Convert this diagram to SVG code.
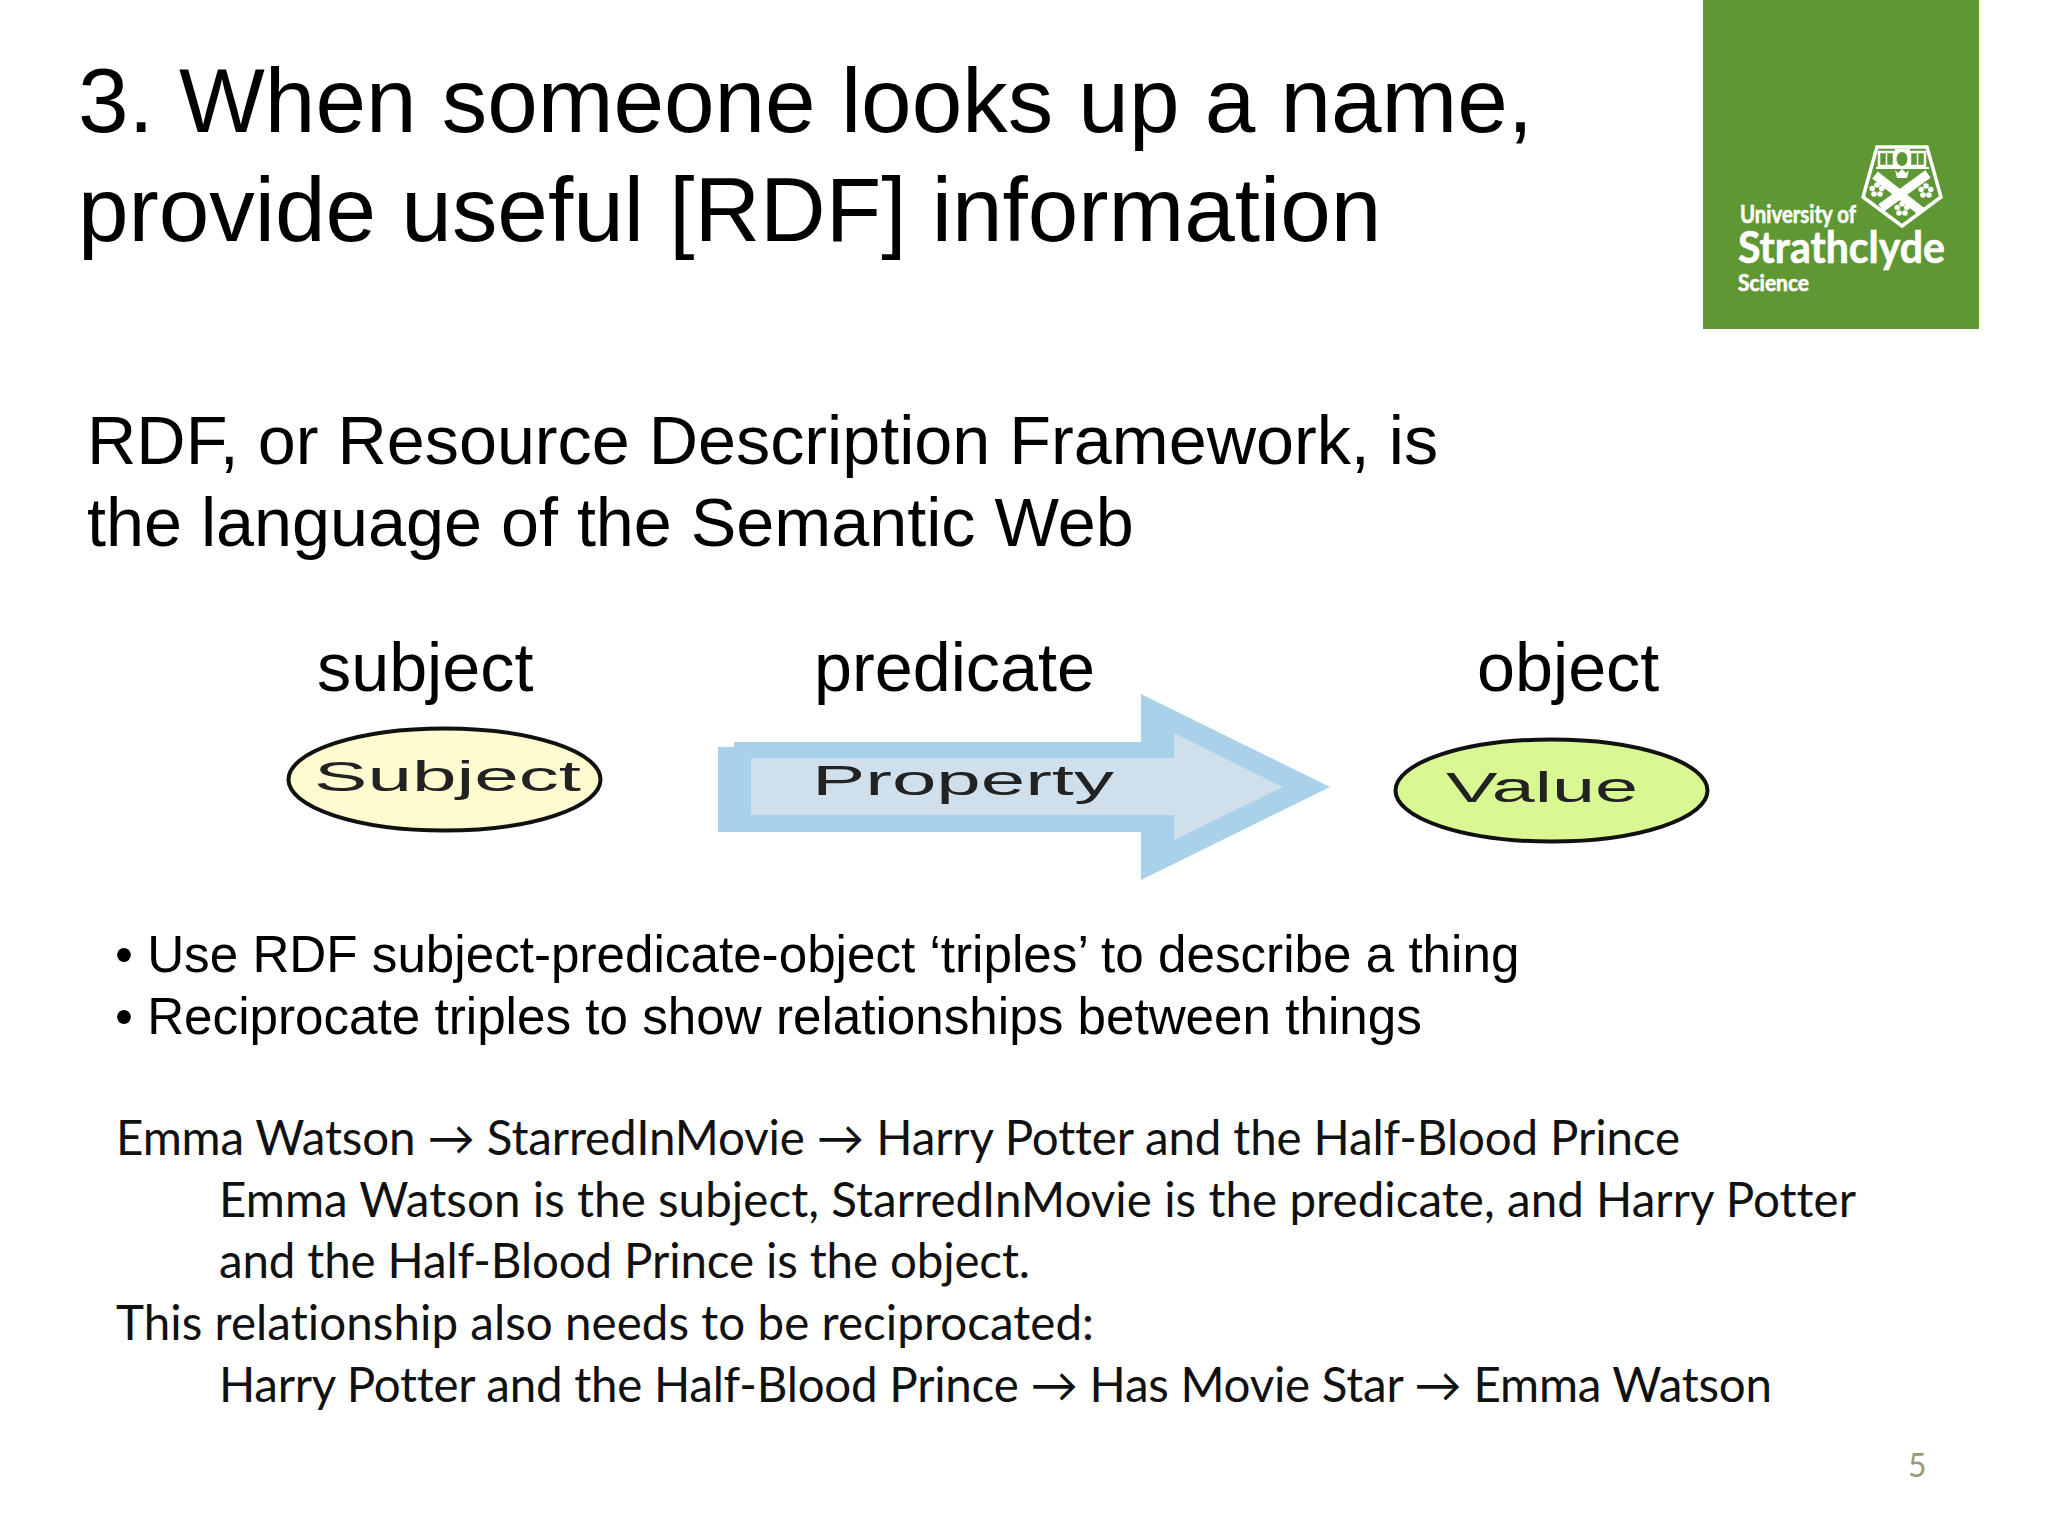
<svg xmlns="http://www.w3.org/2000/svg" width="2048" height="1536" viewBox="0 0 2048 1536">
<style>
text{font-family:"Liberation Sans",Arial,sans-serif;fill:#000}
.title{font-size:90.900px}
.sub{font-size:68.300px}
.bul{font-size:51.200px}
.body{font-family:Lato,"Liberation Sans",sans-serif;font-size:47.500px;fill:#111;font-variant-ligatures:none}
.node{stroke:#111;stroke-width:4}
.nl{font-size:42px;fill:#222}
.logo{font-family:Lato,"Liberation Sans",sans-serif;font-weight:700;fill:#fff;stroke:#fff;stroke-width:.6}
</style>
<defs>
<g id="flower" fill="#fff"><circle cx="0" cy="-5" r="2.800"/><circle cx="4.800" cy="-1.500" r="2.800"/><circle cx="3" cy="4" r="2.800"/><circle cx="-3" cy="4" r="2.800"/><circle cx="-4.800" cy="-1.500" r="2.800"/><circle r="1.300" fill="#5f9734"/></g>
</defs>
<rect width="2048" height="1536" fill="#fff"/>
<g id="logo">
<rect x="1703" y="0" width="276" height="329" fill="#5f9734"/>
<polygon points="1877,147 1927,147 1941,197 1902,226 1863,197" fill="#5f9734" stroke="#fff" stroke-width="3.500"/>
<path d="M1876,168H1929" stroke="#fff" stroke-width="2"/>
<path d="M1879,152h15v14h-15zM1910,152h15v14h-15z" fill="none" stroke="#fff" stroke-width="2.500"/>
<path d="M1886.500,152v14M1917.500,152v14" stroke="#fff" stroke-width="1.500"/>
<rect x="1895" y="149" width="15" height="19" fill="#fff"/>
<ellipse cx="1902" cy="159" rx="5.500" ry="7" fill="#5f9734"/>
<path d="M1875,175L1922,212M1928,174L1881,208" stroke="#fff" stroke-width="9" fill="none"/>
<path d="M1895,170l3,3 4,-4 4,4 3,-3 -2,8h-10z" fill="#fff"/>
<use href="#flower" x="1877" y="190"/><use href="#flower" x="1926" y="191"/><use href="#flower" x="1902" y="209"/>
<text class="logo" x="1740" y="223" font-size="24" textLength="116" lengthAdjust="spacingAndGlyphs">University of</text>
<text class="logo" x="1738" y="263" font-size="43" textLength="207" lengthAdjust="spacingAndGlyphs">Strathclyde</text>
<text class="logo" x="1738" y="291" font-size="23" textLength="71" lengthAdjust="spacingAndGlyphs">Science</text>
</g>
<text class="title" x="78" y="132">3. When someone looks up a name,</text>
<text class="title" x="78" y="241">provide useful [RDF] information</text>
<text class="sub" x="87" y="464">RDF, or Resource Description Framework, is</text>
<text class="sub" x="87" y="546">the language of the Semantic Web</text>
<text class="sub" x="317" y="691">subject</text>
<text class="sub" x="814" y="691">predicate</text>
<text class="sub" x="1477" y="691">object</text>
<g id="connectors">
<polygon id="property-arrow" points="718,747 734,747 734,742 1141,742 1141,694 1330,787 1141,880 1141,832 718,832" fill="#a9d1ea"/>
<polygon points="751,758 1174,758 1174,733 1283,787 1174,840 1174,815 751,815" fill="#cfe0ec"/>
<text class="nl" x="812" y="795" textLength="302" lengthAdjust="spacingAndGlyphs">Property</text>
</g>
<g id="subject-node">
<ellipse class="node" cx="444.500" cy="779.500" rx="156" ry="51" fill="#fdfbcf"/>
<text class="nl" x="314" y="791" textLength="267" lengthAdjust="spacingAndGlyphs">Subject</text>
</g>
<g id="value-node">
<ellipse class="node" cx="1551.500" cy="790.500" rx="156" ry="51" fill="#d9f792"/>
<text class="nl" x="1446" y="802" textLength="192" lengthAdjust="spacingAndGlyphs">Value</text>
</g>
<text class="bul" x="115" y="972">• Use RDF subject-predicate-object ‘triples’ to describe a thing</text>
<text class="bul" x="115" y="1034">• Reciprocate triples to show relationships between things</text>
<text class="body" x="116" y="1155" textLength="1564">Emma Watson → StarredInMovie → Harry Potter and the Half-Blood Prince</text>
<text class="body" x="219" y="1217" textLength="1637">Emma Watson is the subject, StarredInMovie is the predicate, and Harry Potter</text>
<text class="body" x="219" y="1278" textLength="811">and the Half-Blood Prince is the object.</text>
<text class="body" x="116" y="1340" textLength="978">This relationship also needs to be reciprocated:</text>
<text class="body" x="219" y="1402" textLength="1553">Harry Potter and the Half-Blood Prince → Has Movie Star → Emma Watson</text>
<text x="1908" y="1477" style="font-family:Lato,sans-serif;font-size:32px;fill:#9c9a75">5</text>
</svg>
